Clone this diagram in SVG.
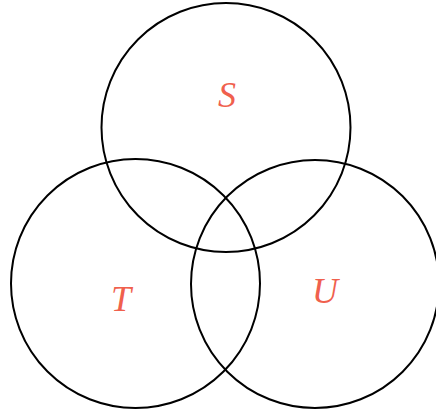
<svg xmlns="http://www.w3.org/2000/svg" width="436" height="414" viewBox="0 0 436 414">
<style>
.c{fill:none;stroke:#000;stroke-width:2}
.l{font-family:"Liberation Serif",serif;font-style:italic;font-size:36px;fill:#F0604D;text-anchor:middle}
</style>
<rect width="436" height="414" fill="#fff"/>
<g id="S"><circle class="c" cx="226" cy="127.5" r="124.5"/><text class="l" x="227" y="107">S</text></g>
<g id="T"><circle class="c" cx="135.5" cy="283.5" r="124.5"/><text class="l" x="121" y="311">T</text></g>
<g id="U"><circle class="c" cx="315" cy="284" r="124"/><text class="l" x="325" y="303">U</text></g>
</svg>
